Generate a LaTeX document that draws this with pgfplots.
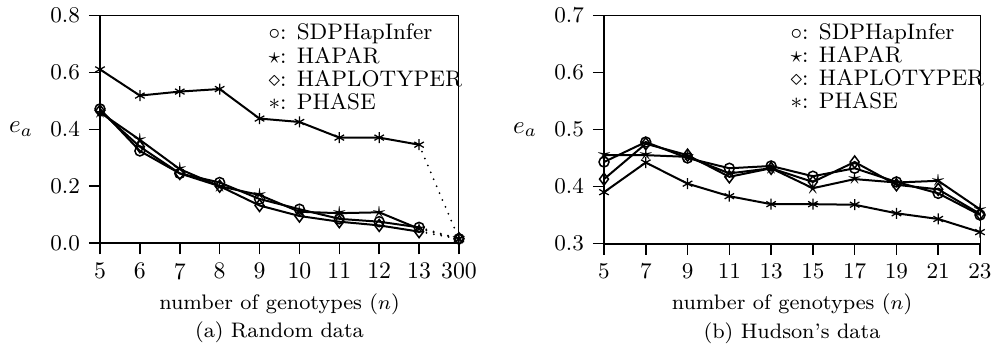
\documentclass[border=0pt]{standalone}
\usepackage{pgfplots}
\pgfplotsset{compat=1.18}
\tikzset{legnode/.style={anchor=base west, font=\fontsize{9}{9.2}\selectfont, inner sep=0pt}}
\begin{document}
\begin{tikzpicture}
\path[use as bounding box] (0,0) rectangle (398.8pt,142.4pt);
\pgfplotsset{
  myax/.style={
    scale only axis, anchor=south west,
    axis line style={line width=0.4pt},
    tick align=outside, tick pos=left,
    major tick length=4.5pt,
    every tick/.style={black, line width=0.6pt},
    ticklabel style={font=\fontsize{9.5}{10}\selectfont},
    yticklabel style={/pgf/number format/fixed, /pgf/number format/precision=1, /pgf/number format/fixed zerofill},
    every axis y label/.style={at={(axis description cs:-0.22,0.5)},anchor=center},
    every axis x label/.style={at={(axis description cs:0.5,-0.268)},anchor=center, font=\fontsize{8.4}{10}\selectfont},
    ylabel={$e_a$}, xlabel={number of genotypes ($n$)},
    every axis plot/.append style={black, line width=0.8pt},
    clip=false,
  },
  sdp/.style={mark=o, mark size=2pt, mark options={solid, line width=0.6pt}},
  hapar/.style={mark=text, text mark as node=true, text mark={$\star$}, text mark style={font=\fontsize{10}{10}\selectfont, inner sep=0pt}, mark options={solid}},
  hapl/.style={mark=diamond, mark size=2.4pt, mark options={solid, line width=0.6pt}},
  phase/.style={mark=asterisk, mark size=2.2pt, mark options={solid, line width=0.5pt}},
  dotseg/.style={line cap=round, dash pattern=on 0pt off 3pt, mark indices={2}, forget plot},
}
% ---------------- (a) Random data ----------------
\begin{axis}[myax, at={(40pt,45.2pt)}, width=143.6pt, height=90.9pt,
  xmin=0, xmax=9, xtick={0,...,9}, xticklabels={5,6,7,8,9,10,11,12,13,300},
  ymin=0, ymax=0.8, ytick={0,0.2,0.4,0.6,0.8}]
\addplot[sdp] coordinates {(0,0.472)(1,0.324)(2,0.245)(3,0.213)(4,0.155)(5,0.119)(6,0.085)(7,0.075)(8,0.055)};
\addplot[hapar] coordinates {(0,0.460)(1,0.363)(2,0.260)(3,0.200)(4,0.169)(5,0.110)(6,0.105)(7,0.108)(8,0.050)};
\addplot[hapl] coordinates {(0,0.465)(1,0.339)(2,0.245)(3,0.200)(4,0.132)(5,0.095)(6,0.075)(7,0.062)(8,0.040)};
\addplot[phase] coordinates {(0,0.611)(1,0.519)(2,0.533)(3,0.542)(4,0.438)(5,0.426)(6,0.371)(7,0.371)(8,0.346)};
\addplot[sdp, dotseg] coordinates {(8,0.055)(9,0.015)};
\addplot[hapar, dotseg] coordinates {(8,0.050)(9,0.015)};
\addplot[hapl, dotseg] coordinates {(8,0.040)(9,0.015)};
\addplot[phase, dotseg] coordinates {(8,0.346)(9,0.014)};
\draw[line width=0.8pt] (rel axis cs:0,1) -- (rel axis cs:0,0) -- (rel axis cs:1,0);
\node[legnode] at ([yshift=-9.7pt]axis description cs:0.468,1) {$\circ$: SDPHapInfer};
\node[legnode] at ([yshift=-19.0pt]axis description cs:0.468,1) {$\star$: HAPAR};
\node[legnode] at ([yshift=-28.3pt]axis description cs:0.468,1) {$\diamond$: HAPLOTYPER};
\node[legnode] at ([yshift=-37.6pt]axis description cs:0.468,1) {$\ast$: PHASE};
\node[font=\fontsize{8.4}{10}\selectfont] at (axis description cs:0.5,-0.394) {(a) Random data};
\end{axis}
% ---------------- (b) Hudson's data ----------------
\begin{axis}[myax, at={(241.6pt,45pt)}, width=150.4pt, height=91.2pt,
  every axis y label/.style={at={(axis description cs:-0.21,0.5)},anchor=center},
  xmin=5, xmax=23, xtick={5,7,...,23},
  ymin=0.3, ymax=0.7, ytick={0.3,0.4,0.5,0.6,0.7}]
\addplot[sdp] coordinates {(5,0.443)(7,0.478)(9,0.450)(11,0.432)(13,0.436)(15,0.418)(17,0.432)(19,0.408)(21,0.388)(23,0.350)};
\addplot[hapar] coordinates {(5,0.455)(7,0.455)(9,0.452)(11,0.423)(13,0.432)(15,0.397)(17,0.413)(19,0.407)(21,0.410)(23,0.360)};
\addplot[hapl] coordinates {(5,0.413)(7,0.475)(9,0.455)(11,0.417)(13,0.432)(15,0.408)(17,0.443)(19,0.403)(21,0.395)(23,0.352)};
\addplot[phase] coordinates {(5,0.390)(7,0.442)(9,0.405)(11,0.383)(13,0.369)(15,0.369)(17,0.368)(19,0.353)(21,0.343)(23,0.320)};
\draw[line width=0.8pt] (rel axis cs:0,1) -- (rel axis cs:0,0) -- (rel axis cs:1,0);
\node[legnode] at ([yshift=-9.4pt]axis description cs:0.495,1) {$\circ$: SDPHapInfer};
\node[legnode] at ([yshift=-18.7pt]axis description cs:0.495,1) {$\star$: HAPAR};
\node[legnode] at ([yshift=-28.0pt]axis description cs:0.495,1) {$\diamond$: HAPLOTYPER};
\node[legnode] at ([yshift=-37.3pt]axis description cs:0.495,1) {$\ast$: PHASE};
\node[font=\fontsize{8.4}{10}\selectfont] at (axis description cs:0.5,-0.394) {(b) Hudson's data};
\end{axis}
\end{tikzpicture}
\end{document}
